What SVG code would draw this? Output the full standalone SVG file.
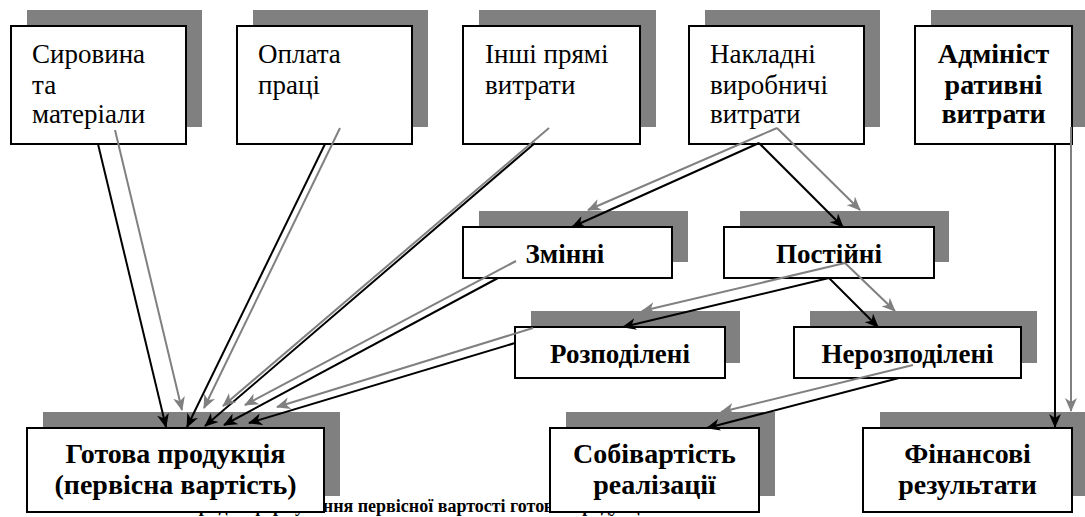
<svg xmlns="http://www.w3.org/2000/svg" width="1085" height="517" viewBox="0 0 1085 517">
<style>
.sh{fill:#808080}
.bx{fill:#fff;stroke:#000;stroke-width:2}
.k{stroke:#000;stroke-width:2;fill:none;marker-end:url(#ak)}
.g{stroke:#808080;stroke-width:2;fill:none;marker-end:url(#ag)}
</style>
<defs>
<marker id="ak" markerUnits="userSpaceOnUse" markerWidth="14" markerHeight="12" refX="13" refY="6" orient="auto" viewBox="0 0 14 12">
<path d="M0,0 L14,6 L0,12 L4,6 Z" fill="#000"/>
</marker>
<marker id="ag" markerUnits="userSpaceOnUse" markerWidth="14" markerHeight="12" refX="13" refY="6" orient="auto" viewBox="0 0 14 12">
<path d="M0,0 L14,6 L0,12 L4,6 Z" fill="#808080"/>
</marker>
</defs>
<rect width="1085" height="517" fill="#fff"/>
<text x="106" y="512" font-family="Liberation Serif" font-size="18" font-weight="bold">Рис. 2.1. Порядок формування первісної вартості готової продукції</text>
<g id="n1"><rect class="sh" x="27" y="10" width="175" height="117"/><rect class="bx" x="11" y="26" width="175" height="118"/>
<text x="32" y="63" font-family="Liberation Serif" font-size="27">Сировина</text><text x="32" y="94" font-family="Liberation Serif" font-size="27">та</text><text x="32" y="123" font-family="Liberation Serif" font-size="27">матеріали</text></g>
<g id="n2"><rect class="sh" x="253" y="10" width="175" height="117"/><rect class="bx" x="237" y="26" width="175" height="118"/>
<text x="258" y="63" font-family="Liberation Serif" font-size="27">Оплата</text><text x="258" y="94" font-family="Liberation Serif" font-size="27">праці</text></g>
<g id="n3"><rect class="sh" x="479" y="10" width="177" height="117"/><rect class="bx" x="463" y="26" width="177" height="118"/>
<text x="485" y="63" font-family="Liberation Serif" font-size="27">Інші прямі</text><text x="485" y="94" font-family="Liberation Serif" font-size="27">витрати</text></g>
<g id="n4"><rect class="sh" x="705" y="10" width="175" height="117"/><rect class="bx" x="689" y="26" width="175" height="118"/>
<text x="710" y="63" font-family="Liberation Serif" font-size="27">Накладні</text><text x="710" y="94" font-family="Liberation Serif" font-size="27">виробничі</text><text x="710" y="123" font-family="Liberation Serif" font-size="27">витрати</text></g>
<g id="n5"><rect class="sh" x="931" y="10" width="157" height="117"/><rect class="bx" x="915" y="26" width="157" height="118"/>
<text x="993.5" y="63" font-family="Liberation Serif" font-size="28" font-weight="bold" text-anchor="middle">Адмініст</text><text x="993.5" y="94" font-family="Liberation Serif" font-size="28" font-weight="bold" text-anchor="middle">ративні</text><text x="993.5" y="123" font-family="Liberation Serif" font-size="28" font-weight="bold" text-anchor="middle">витрати</text></g>
<g id="n6"><rect class="sh" x="479" y="211" width="209" height="51"/><rect class="bx" x="463" y="227" width="209" height="51"/>
<text x="565" y="263" font-family="Liberation Serif" font-size="27" font-weight="bold" text-anchor="middle">Змінні</text></g>
<g id="n7"><rect class="sh" x="740" y="211" width="209" height="51"/><rect class="bx" x="724" y="227" width="210" height="51"/>
<text x="829" y="263" font-family="Liberation Serif" font-size="27" font-weight="bold" text-anchor="middle">Постійні</text></g>
<g id="n8"><rect class="sh" x="531" y="311" width="209" height="52"/><rect class="bx" x="515" y="327" width="210" height="51"/>
<text x="620" y="363" font-family="Liberation Serif" font-size="27" font-weight="bold" text-anchor="middle">Розподілені</text></g>
<g id="n9"><rect class="sh" x="810" y="311" width="227" height="52"/><rect class="bx" x="794" y="327" width="227" height="51"/>
<text x="907.5" y="363" font-family="Liberation Serif" font-size="27" font-weight="bold" text-anchor="middle">Нерозподілені</text></g>
<g id="n10"><rect class="sh" x="43" y="412" width="297" height="84"/><rect class="bx" x="27" y="428" width="297" height="84"/>
<text x="175.5" y="463" font-family="Liberation Serif" font-size="28" font-weight="bold" text-anchor="middle">Готова продукція</text><text x="175.5" y="494" font-family="Liberation Serif" font-size="28" font-weight="bold" text-anchor="middle">(первісна вартість)</text></g>
<g id="n11"><rect class="sh" x="566" y="412" width="209" height="84"/><rect class="bx" x="550" y="428" width="209" height="84"/>
<text x="654.5" y="463" font-family="Liberation Serif" font-size="28" font-weight="bold" text-anchor="middle">Собівартість</text><text x="654.5" y="494" font-family="Liberation Serif" font-size="28" font-weight="bold" text-anchor="middle">реалізації</text></g>
<g id="n12"><rect class="sh" x="880" y="412" width="208" height="84"/><rect class="bx" x="863" y="428" width="209" height="84"/>
<text x="967.5" y="463" font-family="Liberation Serif" font-size="28" font-weight="bold" text-anchor="middle">Фінансові</text><text x="967.5" y="494" font-family="Liberation Serif" font-size="28" font-weight="bold" text-anchor="middle">результати</text></g>
<g id="connectors">
<path class="k" d="M98,144 L166,427"/>
<path class="g" d="M115,130 L182,410"/>
<path class="k" d="M325,144 L187,427"/>
<path class="g" d="M340,128 L204,408"/>
<path class="k" d="M535,143 L205,426"/>
<path class="g" d="M549,128 L223,406"/>
<path class="k" d="M498,278 L224,425"/>
<path class="g" d="M516,261 L245,405"/>
<path class="k" d="M515,343 L249,423"/>
<path class="g" d="M533,328 L277,407"/>
<path class="k" d="M759,143 L572,227"/>
<path class="k" d="M759,143 L843,227"/>
<path class="g" d="M777,128 L588,210"/>
<path class="g" d="M777,128 L860,210"/>
<path class="k" d="M829,278 L623,327"/>
<path class="k" d="M829,278 L878,327"/>
<path class="g" d="M845,263 L642,311"/>
<path class="g" d="M845,263 L895,311"/>
<path class="k" d="M899,378 L707,428"/>
<path class="g" d="M913,365 L721,412"/>
<path class="k" d="M1055,144 L1055,427"/>
<path class="g" d="M1071,127 L1071,411"/>
</g>
</svg>
